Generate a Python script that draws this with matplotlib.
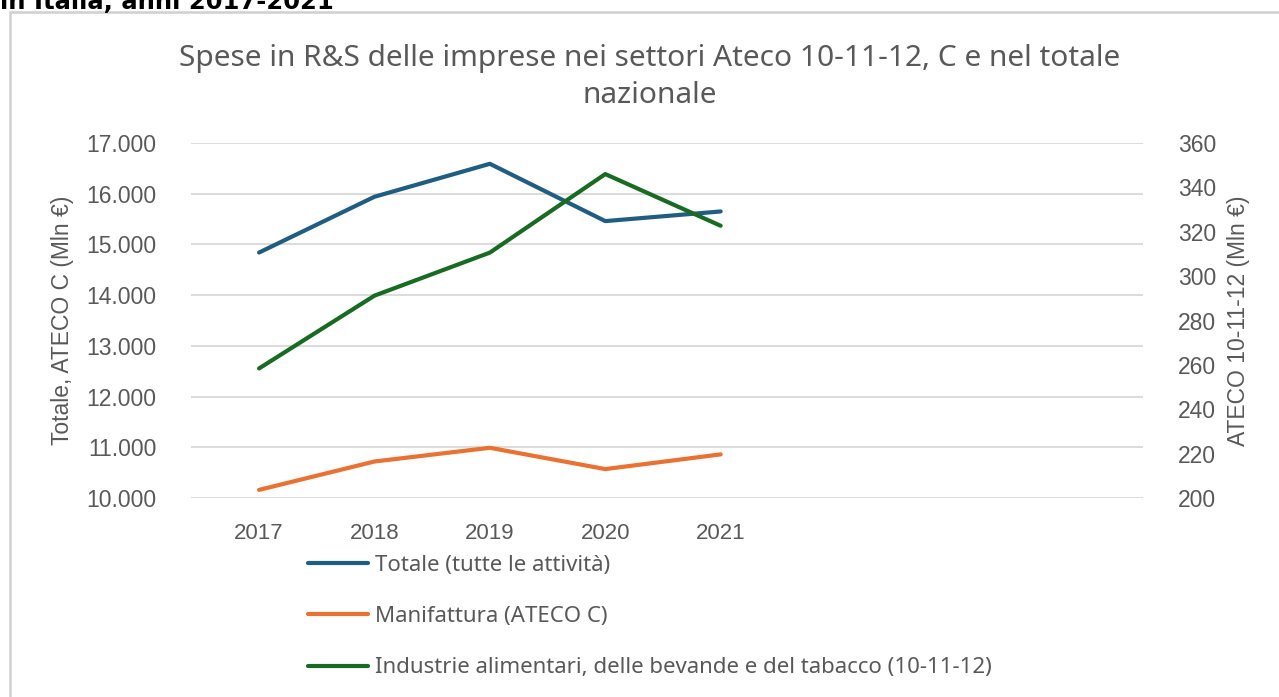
import matplotlib
matplotlib.use("Agg")
import matplotlib.pyplot as plt
from matplotlib.patches import Rectangle
from matplotlib.ticker import FuncFormatter, MultipleLocator

# Spesa in R&S (Mln €), 2017-2021
anni = [2017, 2018, 2019, 2020, 2021]
totale = [14840, 15940, 16590, 15460, 15650]
manifattura = [10160, 10720, 10990, 10570, 10860]
alimentari = [258.4, 291.2, 310.6, 346.0, 322.7]

nomi = ["Totale (tutte le attività)",
        "Manifattura (ATECO C)",
        "Industrie alimentari, delle bevande e del tabacco (10-11-12)"]
colori = ["#1F5E80", "#E97132", "#196B24"]

GRIGIO = "#595959"
W, H = 1279, 697

plt.rcParams["font.family"] = ["Liberation Sans", "DejaVu Sans"]

fig = plt.figure(figsize=(W / 100, H / 100), dpi=100)
fig.patch.set_facecolor("white")

# cornice del grafico
fig.patches.append(Rectangle((10 / W, -0.05), 1.1, 1 - 12 / H + 0.05,
                             transform=fig.transFigure, fill=False,
                             edgecolor="#d0d0d0", lw=1.8, zorder=0))

fig.text(0.0, 1 - 9 / H, "in Italia, anni 2017-2021", fontsize=17.5,
         fontweight="bold", color="black", ha="left", va="baseline",
         family=["DejaVu Sans"])

ax = fig.add_axes([191 / W, 1 - 498 / H, (1143 - 191) / W, (498 - 143) / H])
ax2 = ax.twinx()

ax.set_xlim(2016.41, 2024.66)
ax.set_ylim(10000, 17000)
ax2.set_ylim(200, 360)
ax.yaxis.set_major_locator(MultipleLocator(1000))
ax2.yaxis.set_major_locator(MultipleLocator(20))
ax.yaxis.set_major_formatter(FuncFormatter(lambda v, p: f"{int(v):,}".replace(",", ".")))
ax.set_xticks(anni)

ax.grid(axis="y", color="#d9d9d9", lw=1.3)
ax.set_axisbelow(True)
for a in (ax, ax2):
    for s in a.spines.values():
        s.set_visible(False)
    a.tick_params(length=0, labelsize=16.5, labelcolor=GRIGIO)
ax.tick_params(axis="y", pad=25)
ax2.tick_params(axis="y", pad=25)
ax.tick_params(axis="x", pad=18, labelsize=16)

l1, = ax.plot(anni, totale, color=colori[0], lw=3.0, solid_capstyle="round")
l2, = ax.plot(anni, manifattura, color=colori[1], lw=3.0, solid_capstyle="round")
l3, = ax2.plot(anni, alimentari, color=colori[2], lw=3.0, solid_capstyle="round")

ax.set_ylabel("Totale, ATECO C (Mln €)", fontsize=16.5, color=GRIGIO, labelpad=9)
ax2.set_ylabel("ATECO 10-11-12 (Mln €)", fontsize=16.5, color=GRIGIO, labelpad=8)

fig.text(650 / W, 1 - 77 / H,
         "Spese in R&S delle imprese nei settori Ateco 10-11-12, C e nel totale\nnazionale",
         ha="center", va="center", fontsize=21.5, color=GRIGIO,
         family="Noto Sans", linespacing=1.32)

leg = fig.legend([l1, l2, l3], nomi, loc="upper left",
                 bbox_to_anchor=(288 / W, 1 - 535 / H), frameon=False,
                 handlelength=2.7, handletextpad=0.3, labelspacing=1.36,
                 prop={"family": "Noto Sans", "size": 16})
for t in leg.get_texts():
    t.set_color(GRIGIO)

fig.savefig("out.png", dpi=100)
